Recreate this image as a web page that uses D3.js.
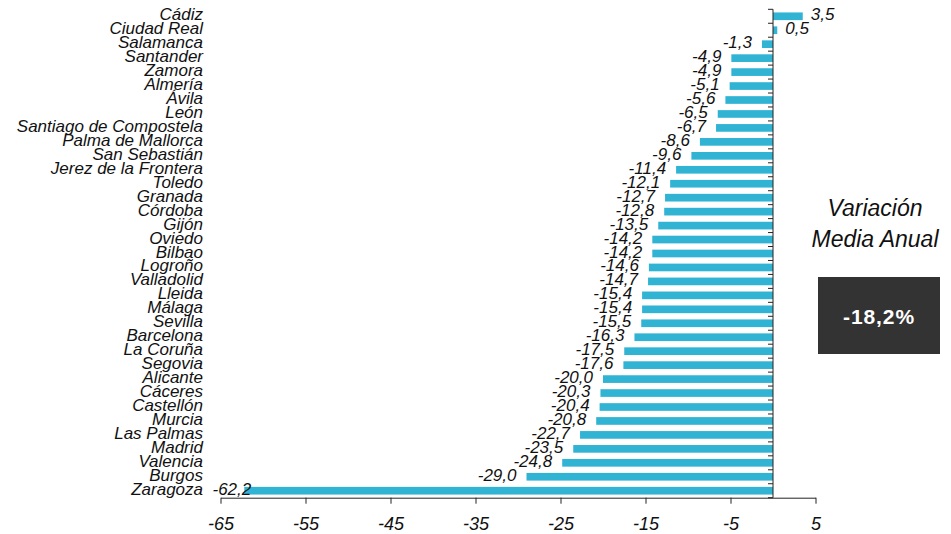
<!DOCTYPE html>
<html>
<head>
<meta charset="utf-8">
<script src="https://cdn.jsdelivr.net/npm/d3@7/dist/d3.min.js"></script>
<style>
  html, body { margin: 0; padding: 0; background: #fff; }
  svg { display: block; font-family: "Liberation Sans", Arial, Helvetica, sans-serif; }
</style>
</head>
<body>
<svg id="chart" width="951" height="534"></svg>
<script>
const cities = ["Cádiz","Ciudad Real","Salamanca","Santander","Zamora","Almería","Ávila","León",
  "Santiago de Compostela","Palma de Mallorca","San Sebastián","Jerez de la Frontera","Toledo",
  "Granada","Córdoba","Gijón","Oviedo","Bilbao","Logroño","Valladolid","Lleida","Málaga","Sevilla",
  "Barcelona","La Coruña","Segovia","Alicante","Cáceres","Castellón","Murcia","Las Palmas","Madrid",
  "Valencia","Burgos","Zaragoza"];
const values = [3.5,0.5,-1.3,-4.9,-4.9,-5.1,-5.6,-6.5,-6.7,-8.6,-9.6,-11.4,-12.1,-12.7,-12.8,-13.5,
  -14.2,-14.2,-14.6,-14.7,-15.4,-15.4,-15.5,-16.3,-17.5,-17.6,-20.0,-20.3,-20.4,-20.8,-22.7,-23.5,
  -24.8,-29.0,-62.2];
const xTicks = [-65,-55,-45,-35,-25,-15,-5,5];
const xDomain = [-65, 5];
const panelTitle = ["Variación", "Media Anual"];
const panelValue = "-18,2%";

const fmt = v => (v < 0 ? "-" : "") + Math.abs(v).toFixed(1).replace(".", ",");
const data = cities.map((c, i) => ({ city: c, value: values[i] }));

const svg = d3.select("#chart");
const x = d3.scaleLinear().domain(xDomain).range([220.5, 815.5]);
const y = d3.scaleBand().domain(cities).range([9.3, 497.7]).paddingInner(0.45).paddingOuter(0.225);

const barColor = "#31b3d4";
const axisColor = "#222";

// bars
svg.append("g").selectAll("rect").data(data).join("rect")
  .attr("x", d => x(Math.min(0, d.value)))
  .attr("y", d => y(d.city))
  .attr("width", d => Math.abs(x(d.value) - x(0)))
  .attr("height", y.bandwidth())
  .attr("fill", barColor);

// x axis
const xAxis = d3.axisBottom(x).tickValues(xTicks).tickSize(6).tickSizeOuter(0)
  .tickFormat(v => (v < 0 ? "-" : "") + Math.abs(v));
const gx = svg.append("g").attr("transform", `translate(0,${y.range()[1]})`).call(xAxis);
gx.select(".domain").attr("stroke", axisColor);
gx.selectAll(".tick line").attr("stroke", axisColor);
gx.selectAll(".tick text").attr("fill", "#111").attr("font-size", 18)
  .attr("font-style", "italic").attr("y", 32).attr("dy", "0");

// y axis (vertical line at zero, ticks at band boundaries)
const y0 = y.range()[0], step = y.step();
svg.append("line").attr("x1", x(0)).attr("x2", x(0))
  .attr("y1", y0).attr("y2", y.range()[1]).attr("stroke", axisColor);
svg.append("g").selectAll("line").data(d3.range(cities.length + 1)).join("line")
  .attr("x1", x(0) - 5).attr("x2", x(0))
  .attr("y1", i => y0 + i * step).attr("y2", i => y0 + i * step)
  .attr("stroke", axisColor);

// city labels
svg.append("g").selectAll("text").data(data).join("text")
  .attr("x", 203)
  .attr("y", d => y(d.city) + y.bandwidth() / 2 + 4)
  .attr("text-anchor", "end")
  .attr("font-size", 17).attr("font-style", "italic").attr("fill", "#111")
  .text(d => d.city);

// value labels
const leftLimit = x(xDomain[0]) - 8;
svg.append("g").selectAll("text").data(data).join("text")
  .attr("y", d => y(d.city) + y.bandwidth() / 2 + 4)
  .attr("font-size", 17).attr("font-style", "italic").attr("fill", "#111")
  .text(d => fmt(d.value))
  .each(function(d) {
    const t = d3.select(this);
    if (d.value >= 0) {
      t.attr("x", x(d.value) + 8).attr("text-anchor", "start");
    } else {
      const w = this.getComputedTextLength();
      const endX = x(d.value) - 10;
      if (endX - w < leftLimit) t.attr("x", leftLimit).attr("text-anchor", "start");
      else t.attr("x", endX).attr("text-anchor", "end");
    }
  });

// right panel
const px = 875;
svg.append("g").selectAll("text").data(panelTitle).join("text")
  .attr("x", px).attr("y", (d, i) => 216 + i * 31)
  .attr("text-anchor", "middle").attr("font-size", 23).attr("font-style", "italic").attr("fill", "#111")
  .text(d => d);
svg.append("rect").attr("x", 818).attr("y", 277).attr("width", 122).attr("height", 77).attr("fill", "#333333");
svg.append("text").attr("x", 879).attr("y", 324).attr("text-anchor", "middle")
  .attr("font-size", 21).attr("font-weight", "bold").attr("fill", "#fff").attr("letter-spacing", "0.9px")
  .text(panelValue);
</script>
</body>
</html>
